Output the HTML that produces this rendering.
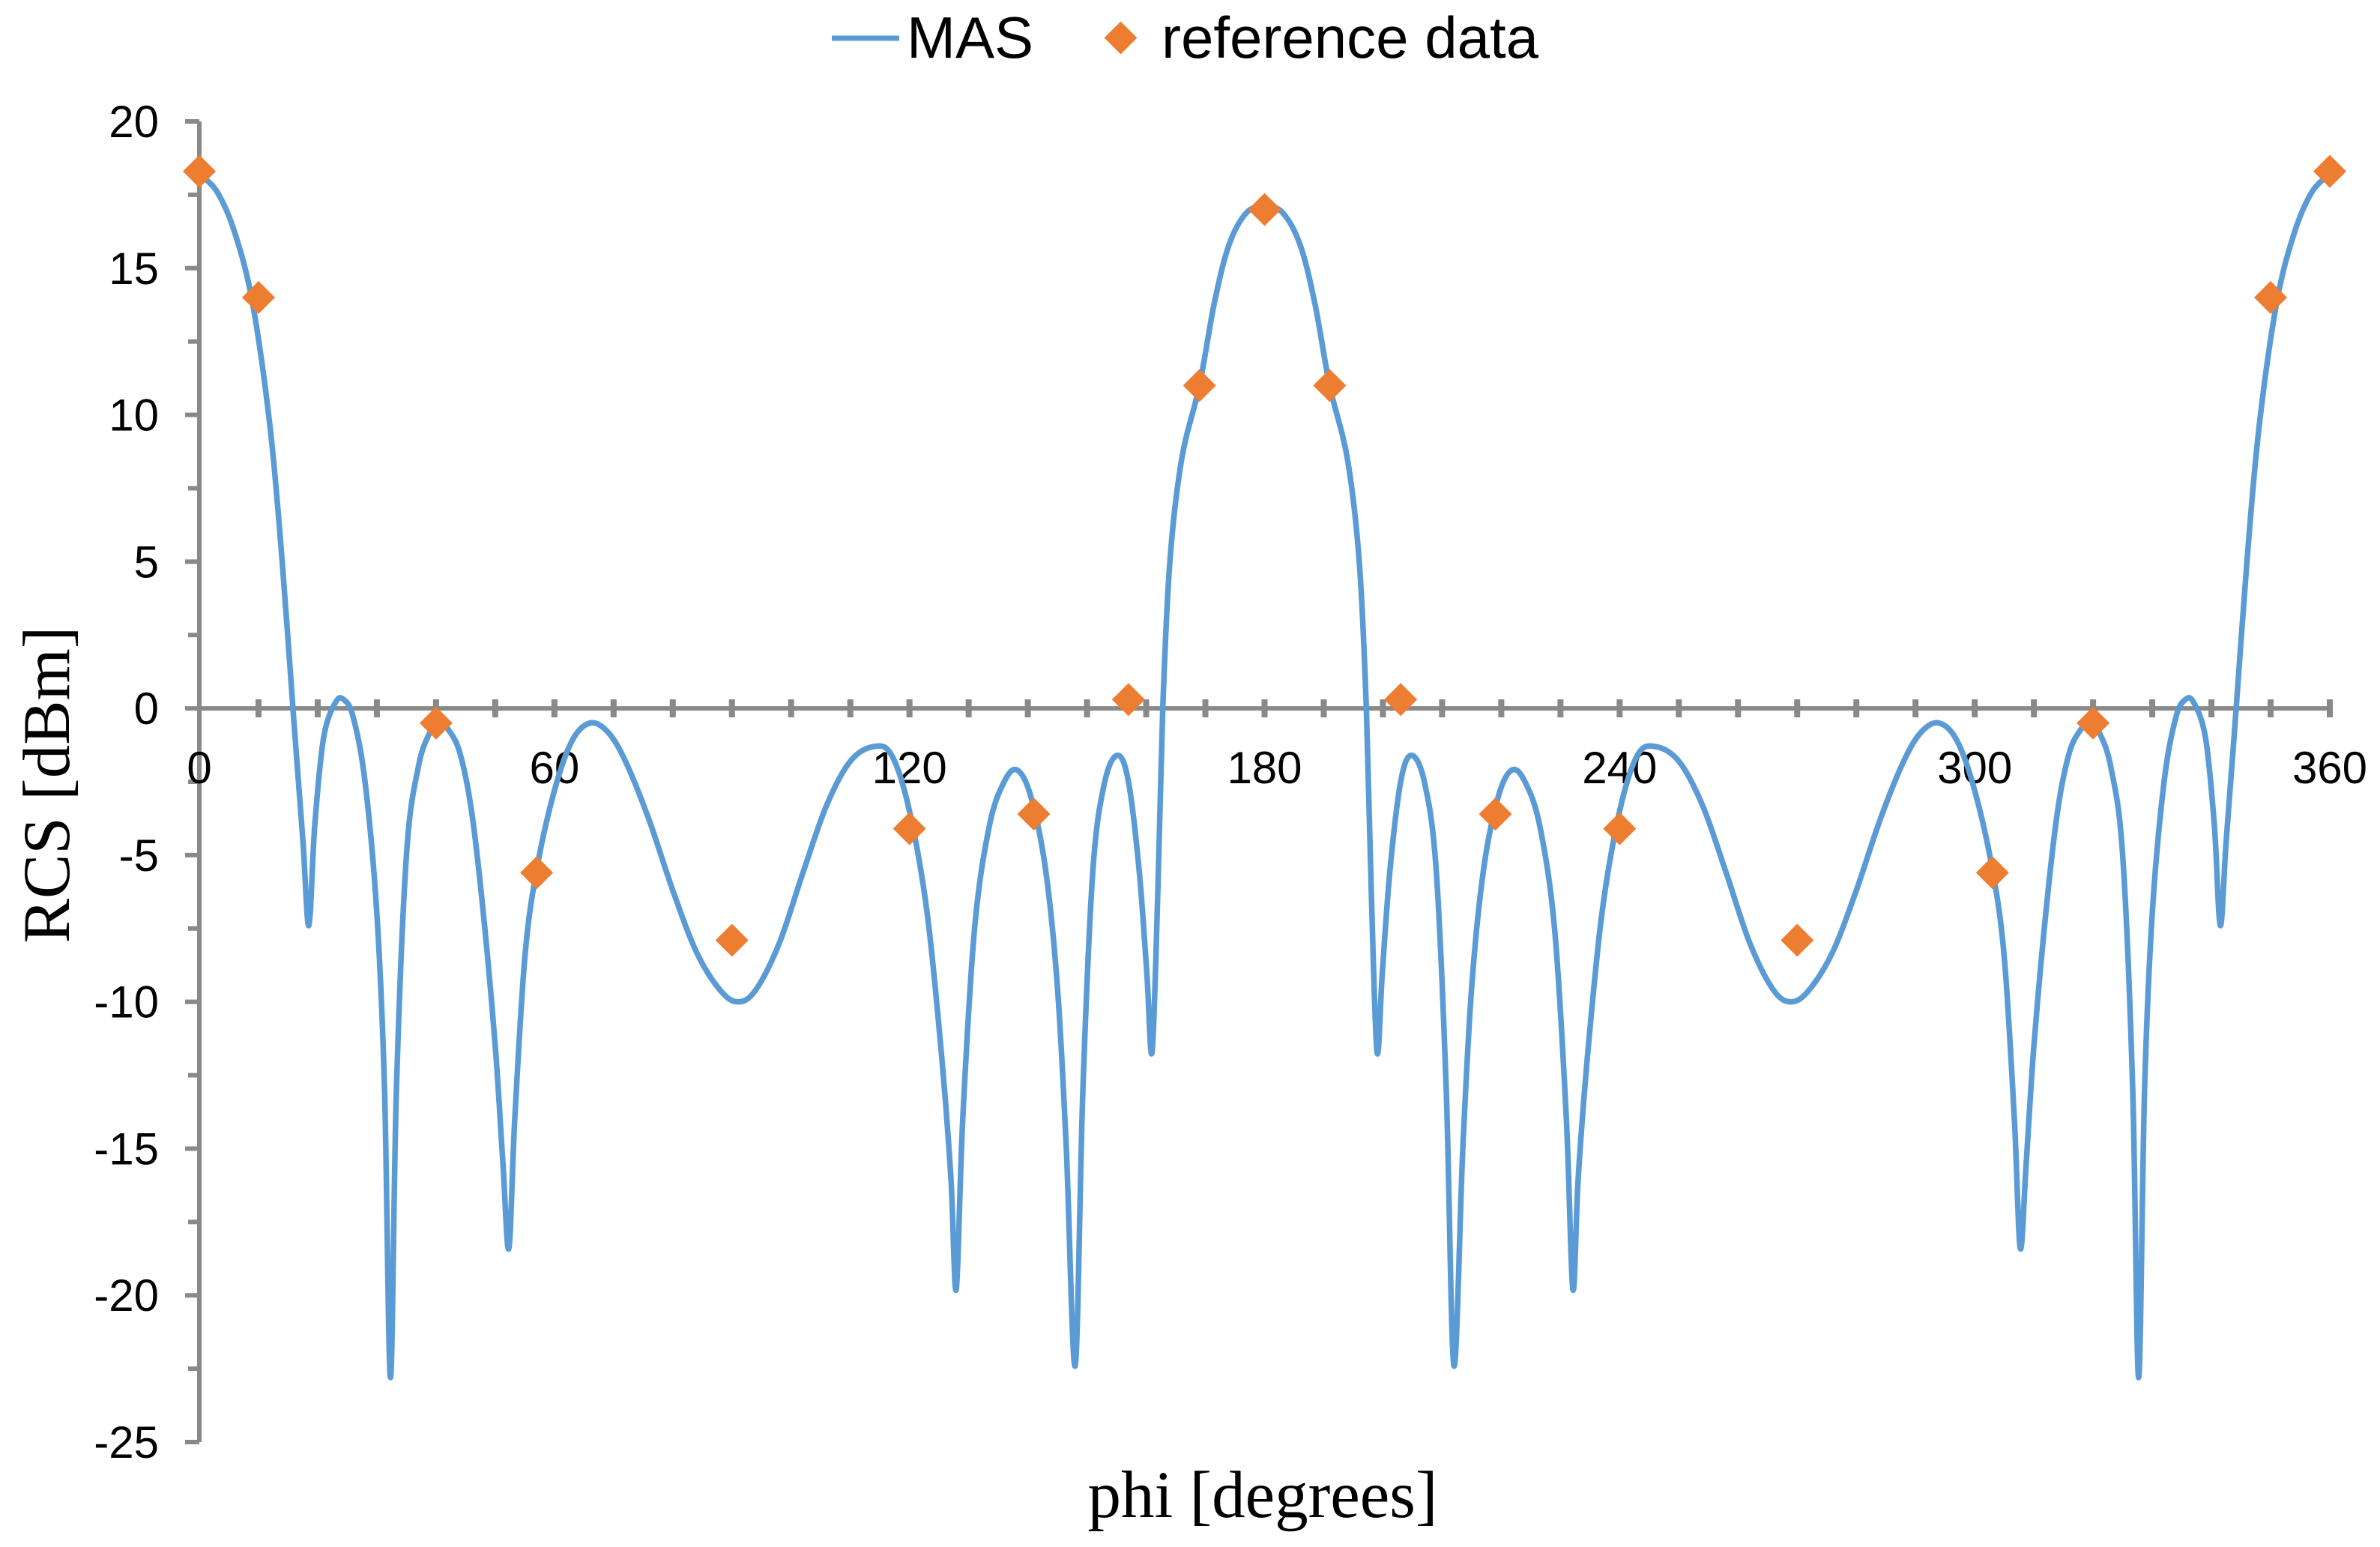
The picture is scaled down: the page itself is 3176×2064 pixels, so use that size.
<!DOCTYPE html>
<html><head><meta charset="utf-8"><style>
html,body{margin:0;padding:0;background:#fff;}
svg{display:block;}
</style></head><body>
<svg id="chart" width="3176" height="2064" viewBox="0 0 3176 2064" xmlns="http://www.w3.org/2000/svg">
<g id="axes"></g>
<g id="series"></g>
<g id="legend">
  <line x1="1110" y1="51" x2="1200" y2="51" stroke="#5B9BD5" stroke-width="7"/>
  <text x="1210" y="77" font-family="Liberation Sans, sans-serif" font-size="78" fill="#000">MAS</text>
  <rect x="1480" y="35" width="31" height="31" fill="#ED7D31" transform="rotate(45 1495.5 50.5)"/>
  <text x="1550" y="77" font-family="Liberation Sans, sans-serif" font-size="78" fill="#000">reference data</text>
</g>
<text transform="translate(92 1047) rotate(-90)" text-anchor="middle" font-family="Liberation Serif, serif" font-size="89" fill="#000">RCS [dBm]</text>
<text x="1685" y="2024" text-anchor="middle" font-family="Liberation Serif, serif" font-size="89" fill="#000">phi [degrees]</text>
</svg>
<script>
const masPhi = [0,3,6,9,12,14,16,17.5,18.5,19.5,21,23,24.4,26,28,30,31.3,32.3,33.3,35,37,39,40.5,42,44,46,48,50,51.3,52.3,53.3,55,57,60,63,66,69,72,76,80,84,88,91,94,98,102,106,110,114,117,120,123,125.5,127,127.9,129,131,133.5,136,138.2,140.5,143,145,146.5,148,149.3,151,153,155.2,157,158.8,160.1,161,162,162.8,164,166,169,171.5,174,177,180,
183,186,188.5,191,194,196,197.2,198,199,199.9,201.2,203,204.8,207,209,210.7,212,213.5,215,217,219.5,221.8,224,226.5,229,231,232.1,233,234.5,237,240,243,246,250,254,258,262,266,269,272,276,280,284,288,291,294,297,300,303,305,306.7,307.7,308.7,310,312,314,316,318,319.5,321,323,325,326.7,327.7,328.7,330,332,334,335.6,337,339,340.5,341.5,342.5,344,346,348,351,354,357,360];
const masRcs = [18.2,17.6,16.2,13.8,9.5,5,-0.5,-4.5,-7.4,-4,-1,0.2,0.3,-0.3,-2.5,-7,-13,-22.8,-13,-5,-2,-0.8,-0.4,-0.7,-1.5,-3.5,-7,-11.5,-15.5,-18.4,-14,-8.5,-5.5,-2.8,-1.1,-0.5,-0.8,-1.8,-3.8,-6.2,-8.3,-9.6,-10,-9.6,-8,-5.6,-3.3,-1.8,-1.3,-1.6,-3.5,-7,-12,-16,-19.8,-14,-7.5,-4,-2.5,-2.1,-3,-5.5,-9.5,-15,-22.4,-13,-5.5,-2.5,-1.6,-2.5,-5.5,-9,-11.7,-6,0,5,8.5,11,13.8,15.8,16.9,17.1,
16.9,15.8,13.8,11,8.5,5,0,-6,-11.7,-9,-5.5,-2.5,-1.6,-2.5,-5.5,-13,-22.4,-15,-9.5,-5.5,-3,-2.1,-2.5,-4,-7.5,-14,-19.8,-16,-12,-7,-3.5,-1.6,-1.3,-1.8,-3.3,-5.6,-8,-9.6,-10,-9.6,-8.3,-6.2,-3.8,-1.8,-0.8,-0.5,-1.1,-2.8,-5.5,-8.5,-14,-18.4,-15.5,-11.5,-7,-3.5,-1.5,-0.7,-0.4,-0.8,-2,-5,-13,-22.8,-13,-7,-2.5,-0.3,0.3,0.2,-1,-4,-7.4,-4.5,-0.5,5,9.5,13.8,16.2,17.6,18.2];
const refPhi = [0,10,40,57,90,120,141,157,169,180,191,203,219,240,270,303,320,350,360];
const refRcs = [18.3,14,-0.5,-5.6,-7.9,-4.1,-3.6,0.3,11,17,11,0.3,-3.6,-4.1,-7.9,-5.6,-0.5,14,18.3];
const xTickLabels = [0,60,120,180,240,300,360];
const yTickLabels = [20,15,10,5,0,-5,-10,-15,-20,-25];

const NS = "http://www.w3.org/2000/svg";
const X0 = 266, X1 = 3109, Y20 = 162, Ym25 = 1924;
function xs(v){ return X0 + (v/360)*(X1-X0); }
function ys(v){ return Y20 + (20-v)/45*(Ym25-Y20); }
function mk(tag, attrs, parent){ const e=document.createElementNS(NS,tag); for(const k in attrs) e.setAttribute(k,attrs[k]); parent.appendChild(e); return e; }

const axes = document.getElementById('axes');
const AX = "#898989";
let yl = mk('line',{x1:X0,y1:Y20,x2:X0,y2:Ym25,stroke:AX,'stroke-width':6},axes);


for(let v=-25; v<=20; v+=2.5){
  const major = Math.abs(v%5)<1e-9;
  const t = mk('line',{x1:major?247:251,y1:ys(v),x2:X0,y2:ys(v),stroke:AX,'stroke-width':6},axes);
  
  
}
yTickLabels.forEach(v=>{
  const t = mk('text',{x:212,y:ys(v)+21,'text-anchor':'end','font-family':'Liberation Sans, sans-serif','font-size':60,fill:'#000'},axes);
  t.textContent = v;
  
  
});
let xl = mk('line',{x1:X0,y1:ys(0),x2:X1,y2:ys(0),stroke:AX,'stroke-width':6},axes);


for(let d=10; d<=360; d+=10){
  const t = mk('line',{x1:xs(d),y1:ys(0)-12,x2:xs(d),y2:ys(0)+12,stroke:AX,'stroke-width':8},axes);
  
  
}
xTickLabels.forEach(v=>{
  const t = mk('text',{x:xs(v),y:ys(0)+100,'text-anchor':'middle','font-family':'Liberation Sans, sans-serif','font-size':60,fill:'#000'},axes);
  t.textContent = v;
  
  
});

const series = document.getElementById('series');
const pts = masPhi.map((p,i)=>[xs(p),ys(masRcs[i])]);
let d = `M${pts[0][0]},${pts[0][1]}`;
for(let i=0;i<pts.length-1;i++){
  const p0=pts[Math.max(0,i-1)], p1=pts[i], p2=pts[i+1], p3=pts[Math.min(pts.length-1,i+2)];
  const c1=[p1[0]+(p2[0]-p0[0])/6, p1[1]+(p2[1]-p0[1])/6];
  const c2=[p2[0]-(p3[0]-p1[0])/6, p2[1]-(p3[1]-p1[1])/6];
  d += ` C${c1[0]},${c1[1]} ${c2[0]},${c2[1]} ${p2[0]},${p2[1]}`;
}
const path = mk('path',{d:d,fill:'none',stroke:'#5B9BD5','stroke-width':7.5,'stroke-linejoin':'round'},series);



refPhi.forEach((p,i)=>{
  const cx=xs(p), cy=ys(refRcs[i]);
  const m = mk('polygon',{points:`${cx-22},${cy} ${cx},${cy-22} ${cx+22},${cy} ${cx},${cy+22}`,fill:'#ED7D31'},series);
  
  
});
</script>
</body></html>
